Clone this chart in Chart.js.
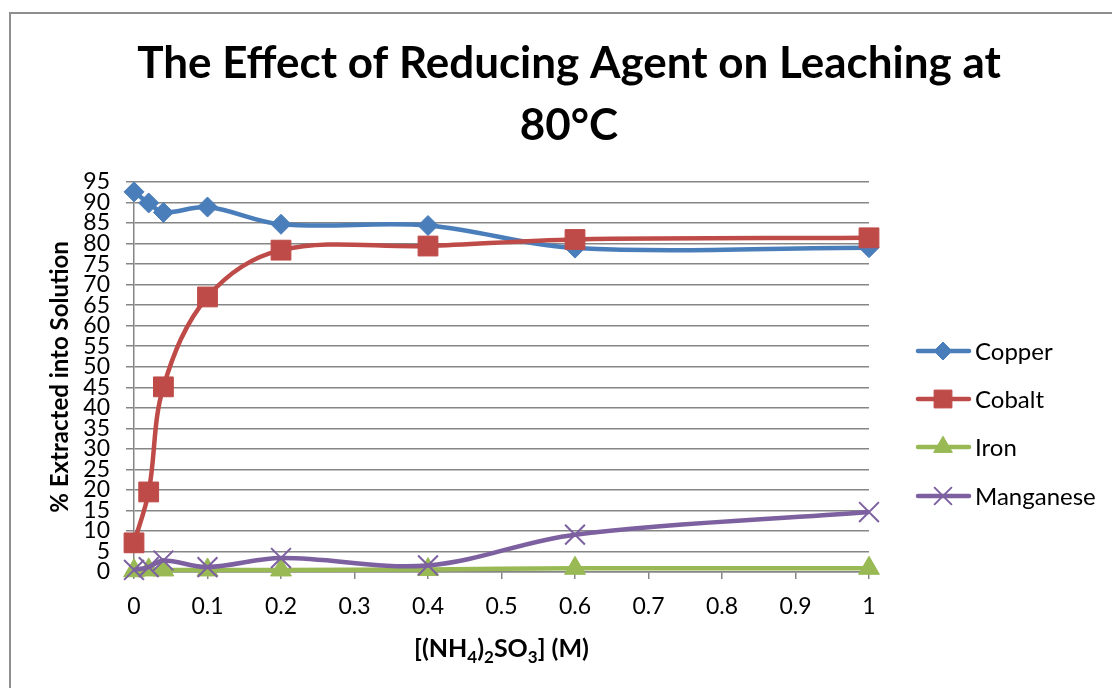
<!DOCTYPE html>
<html>
<head>
<meta charset="utf-8">
<script src="https://cdn.jsdelivr.net/npm/chart.js@4/dist/chart.umd.min.js"></script>
<style>
  html, body { margin: 0; padding: 0; background: #fff; }
  #wrap { position: relative; width: 1112px; height: 688px; }
</style>
</head>
<body>
<div id="wrap"><canvas id="c" width="1112" height="688"></canvas></div>
<script>
const FONT = "Lato, 'Open Sans', 'Liberation Sans', sans-serif";

const titleLines = ["The Effect of Reducing Agent on Leaching at", "80°C"];
// x-axis title pieces: [text, isSubscript]
const xAxisTitleParts = [["[(NH", false], ["4", true], [")", false], ["2", true], ["SO", false], ["3", true], ["] (M)", false]];
const yAxisTitle = "% Extracted into Solution";

const concentrations = [0, 0.02, 0.04, 0.1, 0.2, 0.4, 0.6, 1];
const copper    = [92.6, 89.9, 87.6, 88.9, 84.7, 84.4, 78.9, 79.0];
const cobalt    = [7.1, 19.5, 45.1, 67.0, 78.4, 79.4, 81.0, 81.4];
const iron      = [0.3, 0.5, 0.5, 0.5, 0.5, 0.6, 0.9, 0.9];
const manganese = [0.5, 1.2, 2.8, 1.2, 3.4, 1.6, 9.1, 14.6];

const seriesNames = ["Copper", "Cobalt", "Iron", "Manganese"];
const seriesColors = ["#4A7EBB", "#BE4B48", "#98B954", "#7D60A0"];
const pointStyles = ["rectRot", "rect", "triangle", "crossRot"];
const pointRadii = [10, 14, 12, 14];
const seriesValues = [copper, cobalt, iron, manganese];

function toXY(vals) { return vals.map((v, i) => ({ x: concentrations[i], y: v })); }

const datasets = seriesNames.map((name, i) => ({
  label: name,
  data: toXY(seriesValues[i]),
  borderColor: seriesColors[i],
  backgroundColor: seriesColors[i],
  borderWidth: 4.5,
  tension: 0.35,
  pointStyle: pointStyles[i],
  pointRadius: pointRadii[i],
  pointHoverRadius: pointRadii[i],
  pointBorderWidth: i === 3 ? 2 : 1,
  pointBorderColor: seriesColors[i],
  pointBackgroundColor: seriesColors[i],
  order: 3 - i,
  clip: false
}));

function drawMarker(ctx, style, x, y, r) {
  Chart.helpers.drawPoint(ctx, { pointStyle: style, radius: r, borderWidth: style === 'crossRot' ? 2 : 1, rotation: 0 }, x, y);
}

const decor = {
  id: 'decor',
  afterDraw(chart) {
    const ctx = chart.ctx;
    ctx.save();
    // outer border (top + left)
    ctx.strokeStyle = '#8e8e8e';
    ctx.lineWidth = 2;
    ctx.beginPath();
    ctx.moveTo(10, 688);
    ctx.lineTo(10, 13);
    ctx.lineTo(1112, 13);
    ctx.stroke();

    // title
    ctx.fillStyle = '#000';
    ctx.textAlign = 'center';
    ctx.textBaseline = 'middle';
    let fs = 40;
    ctx.font = `bold ${fs}px ${FONT}`;
    const w = ctx.measureText(titleLines[0]).width;
    fs = fs * 864 / w;
    ctx.font = `bold ${fs}px ${FONT}`;
    ctx.fillText(titleLines[0], 569, 64);
    ctx.fillText(titleLines[1], 569, 126);

    // x-axis title with real subscripts
    const area = chart.chartArea;
    const big = `bold 25px ${FONT}`, small = `bold 17px ${FONT}`;
    ctx.textAlign = 'left';
    ctx.textBaseline = 'alphabetic';
    let total = 0;
    xAxisTitleParts.forEach(([t, sub]) => { ctx.font = sub ? small : big; total += ctx.measureText(t).width; });
    let x = (area.left + area.right) / 2 - total / 2;
    const base = 657;
    xAxisTitleParts.forEach(([t, sub]) => {
      ctx.font = sub ? small : big;
      ctx.fillText(t, x, sub ? base + 6 : base);
      x += ctx.measureText(t).width;
    });

    // legend
    const ys = [351, 399, 447, 496];
    ctx.font = `24px ${FONT}`;
    ctx.textAlign = 'left';
    ctx.textBaseline = 'middle';
    seriesNames.forEach((name, i) => {
      const y = ys[i];
      ctx.strokeStyle = seriesColors[i];
      ctx.fillStyle = seriesColors[i];
      ctx.lineWidth = 4.5;
      ctx.lineCap = 'round';
      ctx.beginPath();
      ctx.moveTo(918, y);
      ctx.lineTo(969, y);
      ctx.stroke();
      ctx.lineCap = 'butt';
      ctx.lineWidth = i === 3 ? 2 : 1;
      drawMarker(ctx, pointStyles[i], 943, y, pointRadii[i] * 0.9);
      ctx.fillStyle = '#000';
      ctx.fillText(name, 975, y + 1);
    });
    ctx.restore();
  }
};

const bg = {
  id: 'bg',
  beforeDraw(chart) {
    const ctx = chart.ctx;
    ctx.save();
    ctx.fillStyle = '#fff';
    ctx.fillRect(0, 0, chart.width, chart.height);
    ctx.restore();
  }
};

new Chart(document.getElementById('c'), {
  type: 'line',
  data: { datasets },
  plugins: [bg, decor],
  options: {
    responsive: false,
    animation: false,
    events: [],
    layout: { padding: { top: 182, right: 243, bottom: 0, left: 0 } },
    plugins: { legend: { display: false }, title: { display: false }, tooltip: { enabled: false } },
    scales: {
      x: {
        type: 'linear',
        min: 0, max: 1,
        afterFit(s) { s.height = 116; },
        border: { display: true, color: '#868686', width: 1.5 },
        grid: { drawOnChartArea: false, drawTicks: true, tickLength: 7, color: '#868686', lineWidth: 1.5 },
        ticks: {
          stepSize: 0.1,
          color: '#000',
          font: { family: FONT, size: 23 },
          padding: 14,
          maxRotation: 0,
          autoSkip: false,
          callback: v => String(Math.round(v * 10) / 10)
        },
        title: { display: false }
      },
      y: {
        min: 0, max: 95,
        afterFit(s) { s.width = 134; },
        border: { display: true, color: '#868686', width: 1.5 },
        grid: { color: '#868686', lineWidth: 1.5, tickLength: 8 },
        ticks: {
          stepSize: 5,
          color: '#000',
          font: { family: FONT, size: 23 },
          padding: 16,
          autoSkip: false
        },
        title: {
          display: true, text: yAxisTitle, color: '#000',
          font: { family: FONT, size: 24, weight: 'bold' },
          padding: { top: 46, bottom: 0 }
        }
      }
    }
  }
});
</script>
</body>
</html>
